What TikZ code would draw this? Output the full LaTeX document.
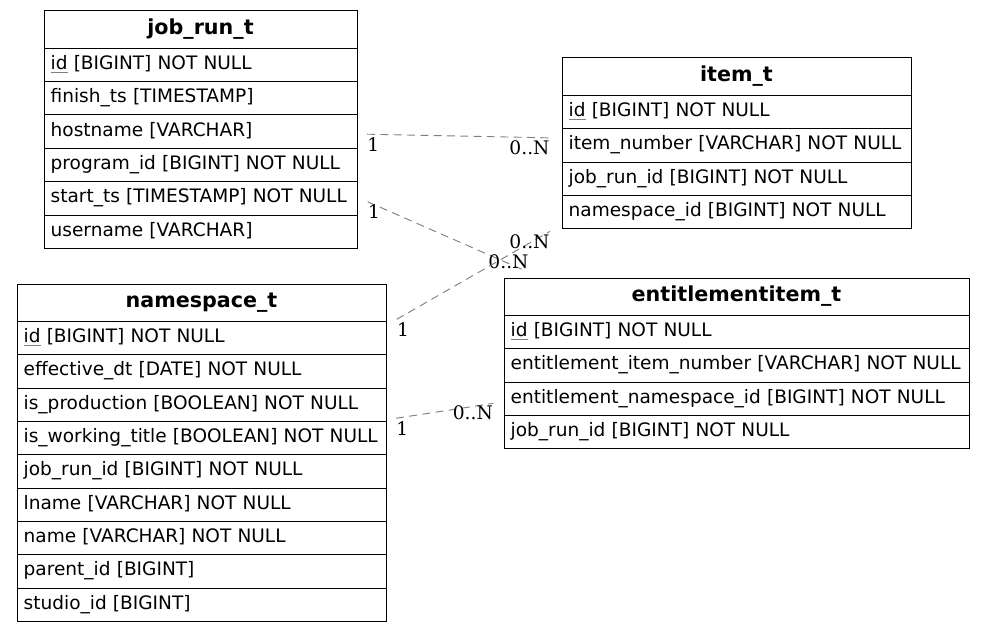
\documentclass[tikz,border=0pt]{standalone}
\usepackage{fontspec}
\setmainfont{DejaVu Sans}
\newfontfamily\cardfont{DejaVu Serif}
\usetikzlibrary{positioning}
% primary key: underline in gray
\newcommand{\pkey}[1]{\setbox0\hbox{#1}\rlap{\textcolor{gray}{\rule[-2.2pt]{\wd0}{0.7pt}}}#1}
\begin{document}
\begin{tikzpicture}[x=0.75pt, y=-0.75pt, node distance=0pt]
        \tikzstyle{cell} = [draw, rectangle, outer sep=0pt, inner xsep=5pt, minimum height=25pt, text height=10.4pt, text depth=3.5pt, align=left, font=\fontsize{13.9}{16}\selectfont, line width=0.75pt]
        \tikzstyle{head} = [cell, minimum height=28pt, align=center, text height=11.5pt, text depth=4pt, font=\fontsize{15.5}{18}\selectfont\bfseries]
        \tikzstyle{rel} = [draw=gray, dash pattern=on 6pt off 4pt, line width=0.7pt]
        \tikzstyle{card} = [font=\cardfont\fontsize{14}{16}\selectfont, inner sep=0pt]

        \useasboundingbox (0,0) rectangle (984,631);

        % job_run_t
        \node [head, text width=224.75pt, anchor=north west] (jr0) at (44,11) {job\_run\_t};
        \node [cell, text width=224.75pt, below=of jr0] (jr1) {\pkey{id} [BIGINT] NOT NULL};
        \node [cell, text width=224.75pt, below=of jr1] (jr2) {finish\_ts [TIMESTAMP]};
        \node [cell, text width=224.75pt, below=of jr2] (jr3) {hostname [VARCHAR]};
        \node [cell, text width=224.75pt, below=of jr3] (jr4) {program\_id [BIGINT] NOT NULL};
        \node [cell, text width=224.75pt, below=of jr4] (jr5) {start\_ts [TIMESTAMP] NOT NULL};
        \node [cell, text width=224.75pt, below=of jr5] (jr6) {username [VARCHAR]};

        % item_t
        \node [head, text width=251.75pt, anchor=north west] (it0) at (562,58) {item\_t};
        \node [cell, text width=251.75pt, below=of it0] (it1) {\pkey{id} [BIGINT] NOT NULL};
        \node [cell, text width=251.75pt, below=of it1] (it2) {item\_number [VARCHAR] NOT NULL};
        \node [cell, text width=251.75pt, below=of it2] (it3) {job\_run\_id [BIGINT] NOT NULL};
        \node [cell, text width=251.75pt, below=of it3] (it4) {namespace\_id [BIGINT] NOT NULL};

        % entitlementitem_t
        \node [head, text width=338.75pt, anchor=north west] (ei0) at (504,278) {entitlementitem\_t};
        \node [cell, text width=338.75pt, below=of ei0] (ei1) {\pkey{id} [BIGINT] NOT NULL};
        \node [cell, text width=338.75pt, below=of ei1] (ei2) {entitlement\_item\_number [VARCHAR] NOT NULL};
        \node [cell, text width=338.75pt, below=of ei2] (ei3) {entitlement\_namespace\_id [BIGINT] NOT NULL};
        \node [cell, text width=338.75pt, below=of ei3] (ei4) {job\_run\_id [BIGINT] NOT NULL};

        % namespace_t
        \node [head, text width=266.75pt, anchor=north west] (ns0) at (17,284) {namespace\_t};
        \node [cell, text width=266.75pt, below=of ns0] (ns1) {\pkey{id} [BIGINT] NOT NULL};
        \node [cell, text width=266.75pt, below=of ns1] (ns2) {effective\_dt [DATE] NOT NULL};
        \node [cell, text width=266.75pt, below=of ns2] (ns3) {is\_production [BOOLEAN] NOT NULL};
        \node [cell, text width=266.75pt, below=of ns3] (ns4) {is\_working\_title [BOOLEAN] NOT NULL};
        \node [cell, text width=266.75pt, below=of ns4] (ns5) {job\_run\_id [BIGINT] NOT NULL};
        \node [cell, text width=266.75pt, below=of ns5] (ns6) {lname [VARCHAR] NOT NULL};
        \node [cell, text width=266.75pt, below=of ns6] (ns7) {name [VARCHAR] NOT NULL};
        \node [cell, text width=266.75pt, below=of ns7] (ns8) {parent\_id [BIGINT]};
        \node [cell, text width=266.75pt, below=of ns8] (ns9) {studio\_id [BIGINT]};

        % relations
        \draw [rel] ([xshift=7.5pt,yshift=-1.9pt]jr3.east) -- ([xshift=-9pt,yshift=5.6pt]it2.west)
          node [card, pos=0, anchor=north west, yshift=-2pt] (c1a) {1}
          node [card, pos=1, anchor=north east, yshift=-2pt] (c1b) {0..N};
        \draw [rel] ([xshift=8pt,yshift=-2.6pt]jr5.east) -- ([xshift=14.5pt,yshift=6pt]ei0.north west)
          node [card, pos=0, anchor=north west, yshift=-2pt] (c2a) {1}
          node [card, pos=1, anchor=south east, xshift=4.25pt, yshift=0.5pt] (c2b) {0..N};
        \draw [rel] ([xshift=8pt,yshift=1.5pt]ns0.south east) -- ([xshift=-9pt,yshift=-2pt]it4.south west)
          node [card, pos=0, anchor=north west, yshift=-2pt] (c3a) {1}
          node [card, pos=1, anchor=north east, yshift=-2pt] (c3b) {0..N};
        \draw [rel] ([xshift=7.5pt,yshift=2.3pt]ns3.south east) -- ([xshift=-8pt,yshift=-3.5pt]ei3.west)
          node [card, pos=0, anchor=north west, yshift=-2pt] (c4a) {1}
          node [card, pos=1, anchor=north east, yshift=-1.5pt] (c4b) {0..N};
\end{tikzpicture}
\end{document}
